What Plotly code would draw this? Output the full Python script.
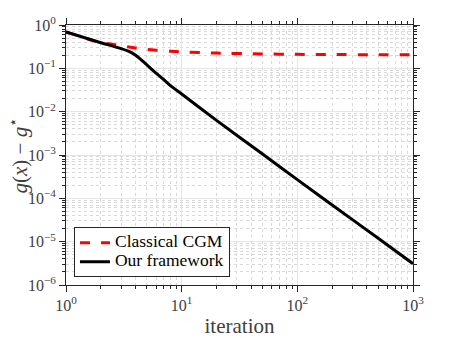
import plotly.graph_objects as go

# values
iters = [1, 2, 2.5, 3, 3.5, 4, 4.5, 5, 6, 7, 8, 10, 20, 50, 100, 200, 500, 1000]
ours = [0.69, 0.39, 0.33, 0.285, 0.245, 0.2, 0.155, 0.12, 0.078, 0.055, 0.040, 0.0255,
        0.0063, 0.00105, 0.00027, 7.0e-05, 1.2e-05, 3.1e-06]
cgm = [0.69, 0.39, 0.36, 0.33, 0.31, 0.295, 0.285, 0.275, 0.262, 0.254, 0.248, 0.24,
       0.225, 0.215, 0.21, 0.208, 0.206, 0.205]

xticks = [1, 10, 100, 1000]
xtick_text = ["10<sup>0</sup>", "10<sup>1</sup>", "10<sup>2</sup>", "10<sup>3</sup>"]
yticks = [1e-6, 1e-5, 1e-4, 1e-3, 1e-2, 1e-1, 1]
ytick_text = ["10<sup>−6</sup>", "10<sup>−5</sup>", "10<sup>−4</sup>", "10<sup>−3</sup>",
              "10<sup>−2</sup>", "10<sup>−1</sup>", "10<sup>0</sup>"]

font = "Liberation Serif, Times New Roman, DejaVu Serif, serif"
# legend rows are sized from the legend font, the text itself is drawn larger
big = '<span style="font-size:17.5px">%s</span>'

fig = go.Figure()

fig.add_trace(go.Scatter(
    x=iters, y=cgm, mode="lines", name=big % "Classical CGM",
    line=dict(color="#ff0000", width=3, dash="10px,11px", shape="spline", smoothing=0.6)))

fig.add_trace(go.Scatter(
    x=iters, y=ours, mode="lines", name=big % "Our framework",
    line=dict(color="black", width=3, shape="spline", smoothing=0.6)))

tick_font = dict(family=font, size=16, color="#404040")
minor = dict(ticks="outside", ticklen=3, tickcolor="#262626", dtick="D1",
             showgrid=True, gridcolor="#d9d9d9", griddash="dot", gridwidth=1)

fig.update_xaxes(
    type="log", range=[0, 3], tickvals=xticks, ticktext=xtick_text,
    showline=True, linecolor="#262626", linewidth=1, mirror="ticks",
    ticks="outside", ticklen=6, tickcolor="#262626", automargin=False,
    showgrid=True, gridcolor="#e6e6e6", zeroline=False,
    tickfont=tick_font, minor=minor,
    title=dict(text="iteration", font=dict(family=font, size=21, color="#404040"),
               standoff=6))
fig.update_yaxes(
    type="log", range=[-6, 0], tickvals=yticks, ticktext=ytick_text,
    showline=True, linecolor="#262626", linewidth=1, mirror="ticks",
    ticks="outside", ticklen=6, tickcolor="#262626", automargin=False,
    showgrid=True, gridcolor="#e6e6e6", zeroline=False,
    tickfont=tick_font, minor=minor)

# y title as an annotation so it sits where the reference has it
fig.add_annotation(
    text="<i>g</i>(<i>x</i>) − <i>g</i><sup>⋆</sup>", textangle=-90,
    xref="paper", yref="paper", x=-0.137, y=0.5, xanchor="center", yanchor="middle",
    showarrow=False, font=dict(family=font, size=21, color="#404040"))

# page body has an 8px margin, so the figure is 8px smaller than the window
fig.update_layout(
    width=449, height=330,
    margin=dict(l=58, r=44, t=17, b=53),
    paper_bgcolor="white", plot_bgcolor="white",
    showlegend=True,
    legend=dict(x=0.023, y=0.03, xanchor="left", yanchor="bottom",
                bgcolor="white", bordercolor="#262626", borderwidth=1,
                font=dict(family=font, size=11, color="black"),
                tracegroupgap=0, itemwidth=30),
)

fig.write_html("out.html")
